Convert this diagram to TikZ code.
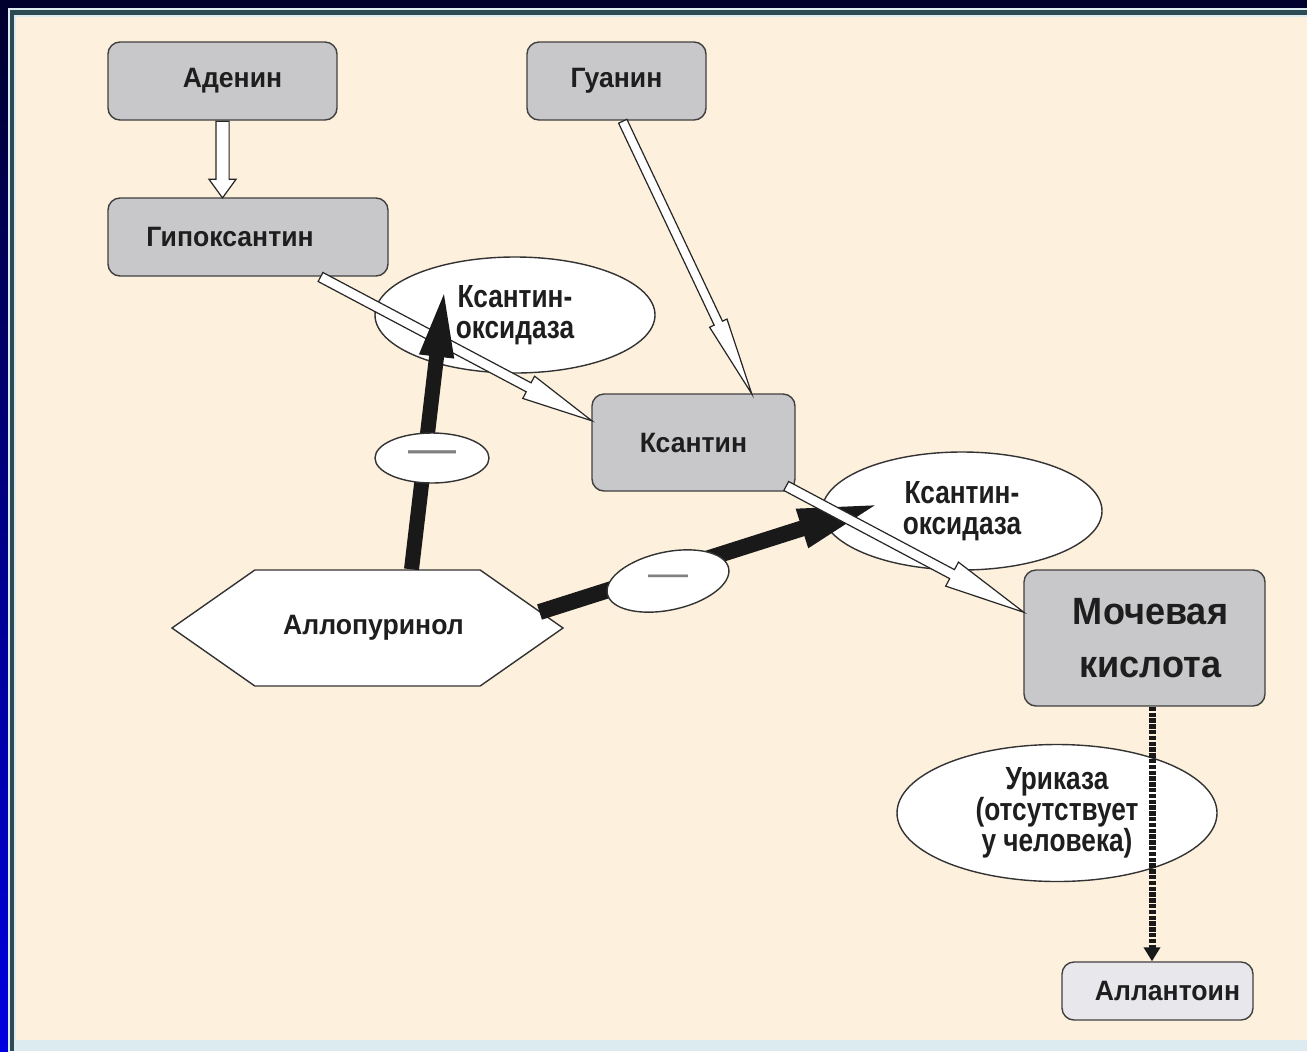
\documentclass[tikz,border=0pt]{standalone}
\usepackage{fontspec}
\setmainfont{Liberation Sans}
\newfontfamily\boxfont{Liberation Sans}[FakeStretch=0.95]
\newfontfamily\narrowfont{Liberation Sans}[FakeStretch=0.82]
\usepackage{tikz}
\usetikzlibrary{calc,arrows.meta,shapes.geometric,shapes.arrows,shapes.symbols}
\definecolor{navybg}{RGB}{0,0,46}
\definecolor{edgeblue}{RGB}{0,0,225}
\definecolor{slate}{RGB}{45,75,85}
\definecolor{rim}{RGB}{220,235,240}
\definecolor{panelcream}{RGB}{253,240,220}
\definecolor{boxgray}{RGB}{200,200,202}
\definecolor{boxlight}{RGB}{232,232,236}
\definecolor{ink}{RGB}{30,30,30}

% hollow arrow between two points: name, from, to, head options
\newcommand{\hollowlink}[4]{%
  \path let \p1=(#2), \p2=(#3),
    \n1={atan2(\y2-\y1,\x2-\x1)}, \n2={veclen(\x2-\x1,\y2-\y1)} in
    node[hollow, #4, rotate=\n1, minimum height=\n2, anchor=tail] (#1) at (\p1) {};}

\begin{document}
\begin{tikzpicture}[x=0.5pt, y=-0.5pt,
  compound/.style={draw=black!75, line width=0.7pt, rounded corners=6pt, fill=boxgray, text=ink,
    font=\boxfont\bfseries\fontsize{14}{16}\selectfont, inner sep=0pt},
  enzyme/.style={ellipse, draw=black!80, line width=0.7pt, fill=white, text=ink,
    font=\narrowfont\bfseries\fontsize{16}{15.5}\selectfont, align=center, inner sep=0pt},
  minus/.style={ellipse, draw=black!80, line width=0.7pt, fill=white, text=black!50, inner sep=0pt},
  hollow/.style={single arrow, draw=black!85, fill=white, line width=0.6pt, inner xsep=0pt},
  blockarr/.style={line width=7.5pt, black!90, -{Triangle[length=36pt, width=15pt]}},
  missing/.style={line width=3.5pt, black!90, dash pattern=on 2.2pt off 0.7pt, -{Triangle[length=7pt, width=8pt]}}
]
\useasboundingbox (0,0) rectangle (1307,1051);
% frame
\fill[navybg] (0,0) rectangle (1307,1051);
\shade[top color=navybg, bottom color=edgeblue] (0,8) rectangle (8,1051);
\fill[rim] (8,8) rectangle (1307,1051);
\fill[slate] (10,10) rectangle (1307,1051);
\fill[rim] (14,15) rectangle (1307,1051);
\fill[panelcream] (16,17) rectangle (1307,1040);

% compounds
\node[compound, minimum width=114.5pt, minimum height=39pt] (aden) at (222.5,81) {\kern10pt Аденин};
\node[compound, minimum width=140pt, minimum height=39pt] (hypo) at (248,237) {Гипоксантин\kern18pt};
\node[compound, minimum width=89.5pt, minimum height=39pt] (guan) at (616.5,81) {Гуанин};
\node[compound, minimum width=101.5pt, minimum height=48.5pt] (xan) at (693.5,442.5) {Ксантин};
\node[compound, minimum width=120.5pt, minimum height=68pt, align=center,
  font=\boxfont\bfseries\fontsize{19}{26.5}\selectfont] (uric) at (1144.5,638) {\kern6pt Мочевая\\\kern6pt кислота};
\node[compound, fill=boxlight, minimum width=95.5pt, minimum height=29pt] (allan) at (1157.5,991) {\kern10pt Аллантоин};

% enzymes
\node[enzyme, minimum width=140pt, minimum height=58pt] (xo1) at (515,315) {Ксантин-\\оксидаза};
\node[enzyme, minimum width=140pt, minimum height=59pt] (xo2) at (962,511) {Ксантин-\\оксидаза};
\node[enzyme, minimum width=160pt, minimum height=68.5pt] (uricase) at (1057,813) {Уриказа\\(отсутствует\\у человека)};

% drug
\node[signal, signal to=west and east, signal pointer angle=70, draw=black!80, line width=0.7pt,
  fill=white, text=ink, font=\boxfont\bfseries\fontsize{14}{16}\selectfont, inner sep=0pt,
  minimum width=195.5pt, minimum height=58pt] (allo) at (367.5,628) {\kern6pt Аллопуринол};

% pathway
\hollowlink{l1}{aden.south}{aden.south |- hypo.north}{inner ysep=3pt, single arrow head extend=3.5pt, single arrow tip angle=72}
\hollowlink{l2}{$(hypo.south)+(72,0)$}{$(xan.west)+(0,-22)$}{inner ysep=2.25pt, single arrow head extend=3.75pt, single arrow tip angle=20}
\hollowlink{l3}{$(guan.south)+(6,0)$}{$(xan.north)+(58,0)$}{inner ysep=2pt, single arrow head extend=2.5pt, single arrow tip angle=14}

% inhibition
\coordinate (xo1tip) at ($(xo1.center)+(-70,-30)$);
\coordinate (xo2tip) at ($(xo2.center)+(-80,-8)$);
\draw[blockarr] ($(allo.north)+(44,0)$) -- (xo1tip);
\draw[blockarr, line width=8pt, -{Triangle[length=42pt, width=18pt]}] ($(allo.center)+(172,-16)$) -- (xo2tip);

\hollowlink{l4}{$(xan.south east)+(-10,-6)$}{$(uric.west)+(0,-26)$}{inner ysep=2.25pt, single arrow head extend=4.25pt, single arrow tip angle=19}

\draw[missing] ($(uric.south)+(7.5,0)$) -- ($(allan.north)+(-5.5,0)$);

\node[minus, minimum width=57pt, minimum height=25pt, font=\fontsize{24}{24}\selectfont] (m1) at (432,458) {—};
\node[minus, minimum width=62pt, minimum height=29pt, rotate=12, font=\fontsize{20}{20}\selectfont] (m2) at (668,581) {\rotatebox{-12}{—}};
\end{tikzpicture}
\end{document}
